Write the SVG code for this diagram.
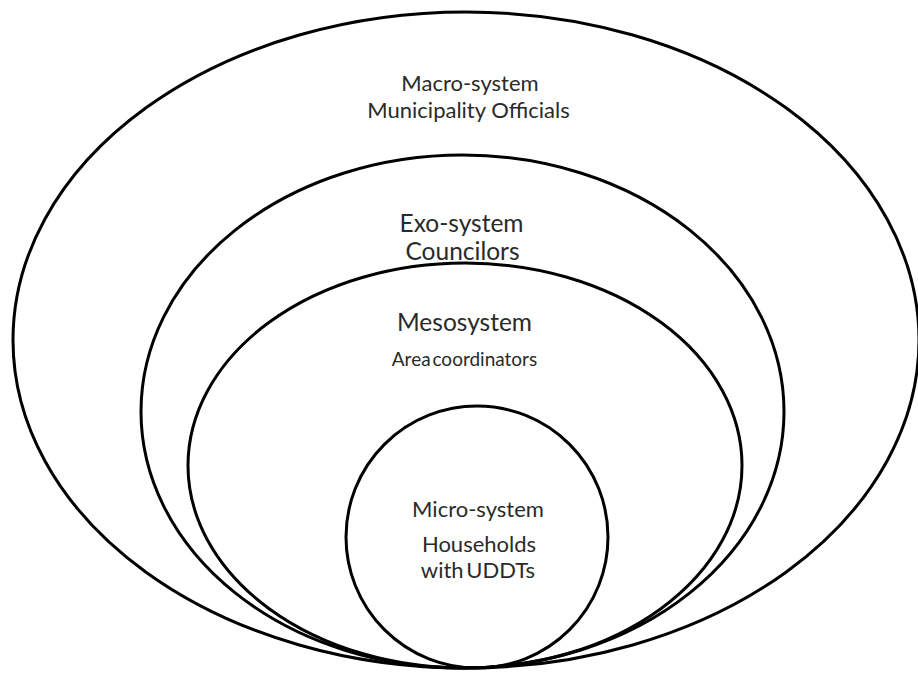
<svg xmlns="http://www.w3.org/2000/svg" width="918" height="673" viewBox="0 0 918 673">
<style>
.ring{fill:none;stroke:#000;stroke-width:3}
.t{font-family:Lato,"Liberation Sans",sans-serif;fill:#2a2a2a;text-anchor:middle}
.tight{word-spacing:-3px}
</style>
<rect width="918" height="673" fill="#fff"/>
<g id="macro">
<ellipse class="ring" cx="466" cy="340" rx="453" ry="328"/>
<text class="t" x="470" y="91" font-size="22">Macro-system</text>
<text class="t" x="468.5" y="118" font-size="22">Municipality Officials</text>
</g>
<g id="exo">
<ellipse class="ring" cx="462.5" cy="411.5" rx="321.5" ry="256.5"/>
<text class="t" x="461.5" y="232" font-size="24.5">Exo-system</text>
<text class="t" x="462.5" y="260" font-size="24.5">Councilors</text>
</g>
<g id="meso">
<ellipse class="ring" cx="465" cy="465.5" rx="277" ry="202.5"/>
<text class="t" x="464.5" y="331" font-size="24.5">Mesosystem</text>
<text class="t tight" x="464.5" y="366" font-size="19">Area coordinators</text>
</g>
<g id="micro">
<circle class="ring" cx="477" cy="537" r="131"/>
<text class="t" x="478" y="517" font-size="22">Micro-system</text>
<text class="t" x="479" y="552" font-size="22">Households</text>
<text class="t tight" x="478" y="578" font-size="22">with UDDTs</text>
</g>
<g id="connectors"/>
</svg>
